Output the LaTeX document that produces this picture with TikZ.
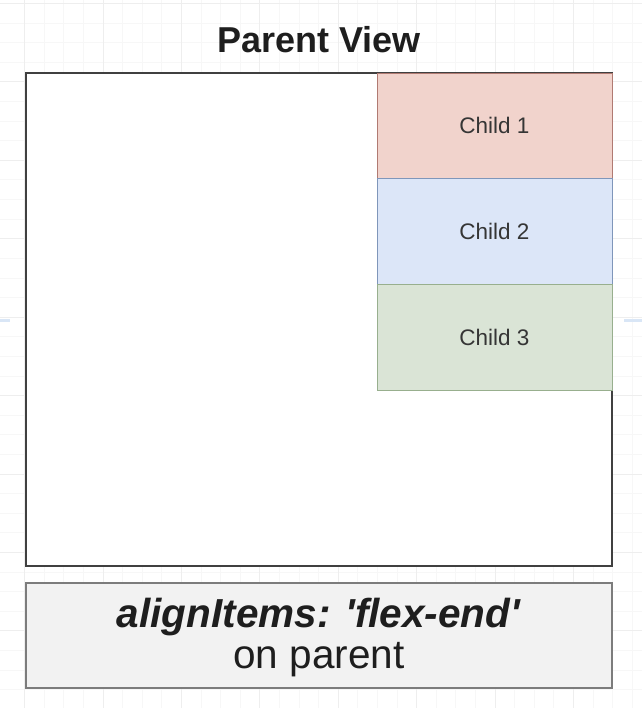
\documentclass[tikz,border=0pt]{standalone}
\usepackage{fontspec}
\setmainfont{Liberation Sans}
\usepackage{xcolor}
\usetikzlibrary{positioning}

\definecolor{gridminor}{HTML}{F7F7F7}
\definecolor{gridmajor}{HTML}{EEEEEE}
\definecolor{markblue}{HTML}{D9E6F6}
\definecolor{redfill}{HTML}{F1D3CC}
\definecolor{redline}{HTML}{B07A72}
\definecolor{bluefill}{HTML}{DCE6F8}
\definecolor{blueline}{HTML}{7F96BA}
\definecolor{greenfill}{HTML}{DAE4D6}
\definecolor{greenline}{HTML}{98AF8E}
\definecolor{notefill}{HTML}{F2F2F2}
\definecolor{noteline}{HTML}{7C7C7C}
\definecolor{textdark}{HTML}{1E1E1E}

\tikzset{
	parentbox/.style={draw=textdark!85, fill=white, line width=1.6pt, minimum width=586pt, minimum height=493pt, inner sep=0pt, outer sep=0pt},
	childbox/.style={line width=0.9pt, minimum width=235pt, minimum height=105.67pt, inner sep=0pt, outer sep=0pt, text=textdark!90, font=\fontsize{22.5}{26}\selectfont},
	notebox/.style={draw=noteline, fill=notefill, line width=1.2pt, minimum width=586pt, minimum height=105pt, inner sep=0pt, align=center, text=textdark, font=\fontsize{40.5}{41}\selectfont}
}

\begin{document}
\begin{tikzpicture}[x=1pt, y=-1pt]
	\useasboundingbox (0, 0) rectangle (642, 708);
	% background grid
	\foreach \gx in {24.5, 44.1, ..., 642} \draw[gridminor, line width=0.8pt] (\gx, 0)--(\gx, 708);
	\foreach \gy in {3.5, 23.1, ..., 708} \draw[gridminor, line width=0.8pt] (0, \gy)--(642, \gy);
	\foreach \gx in {24.5, 102.9, ..., 642} \draw[gridmajor, line width=0.8pt] (\gx, 0)--(\gx, 708);
	\foreach \gy in {3.5, 81.9, ..., 708} \draw[gridmajor, line width=0.8pt] (0, \gy)--(642, \gy);
	\draw[markblue, line width=3pt] (0, 320)--(10, 320);
	\draw[markblue, line width=3pt] (624, 320)--(642, 320);

	\node[font=\bfseries\fontsize{36}{38}\selectfont, text=textdark] (title) at (319, 40) {Parent View};
	\node[parentbox] (parent) at (319, 319.5) {};

	\node[childbox, draw=redline, fill=redfill, anchor=north east] (child1) at (parent.north east) {Child 1};
	\node[childbox, draw=blueline, fill=bluefill, below=0pt of child1] (child2) {Child 2};
	\node[childbox, draw=greenline, fill=greenfill, below=0pt of child2] (child3) {Child 3};

	\node[notebox] (note) at (319, 635.5) {};
	\node[font=\fontsize{40.5}{41}\selectfont, align=center, text=textdark] (notetext) at ([yshift=-2pt]note.center) {\textbf{\textit{alignItems: \textquotesingle flex-end\textquotesingle}}\\on parent};
\end{tikzpicture}
\end{document}
